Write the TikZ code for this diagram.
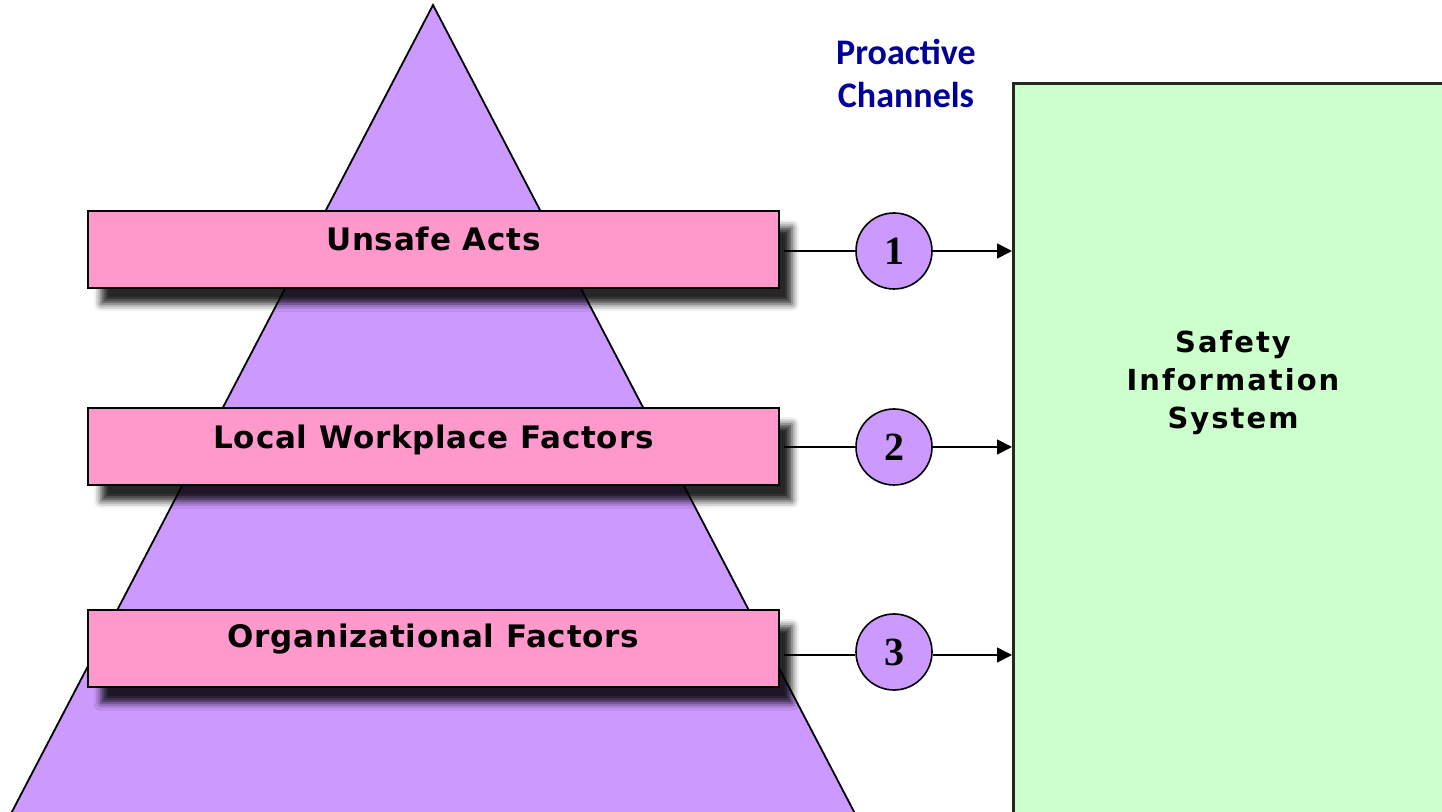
\documentclass[tikz,border=0pt]{standalone}
\usepackage{fontspec}
\newfontfamily\verdfont{DejaVu Sans}[LetterSpace=2.5]
\newfontfamily\sisfont{DejaVu Sans}[LetterSpace=7]
\newfontfamily\califont{Carlito}
\newfontfamily\numfont{Liberation Serif}
\usetikzlibrary{shadows.blur,arrows.meta}
\definecolor{trifill}{HTML}{CC99FF}
\definecolor{boxfill}{HTML}{FF99CC}
\definecolor{sisfill}{HTML}{CCFFCC}
\definecolor{navy}{HTML}{000099}
\tikzset{
  layerbox/.style={draw=black, line width=1pt, fill=boxfill, minimum width=345.5pt, minimum height=38.5pt, inner sep=0pt,
    blur shadow={shadow xshift=6.5pt, shadow yshift=-8pt, shadow blur radius=3.5pt, shadow opacity=85}},
  layertext/.style={font=\verdfont\bfseries\fontsize{15.5}{17}\selectfont, inner sep=0pt, anchor=base},
  chan/.style={circle, draw=black, line width=0.8pt, fill=trifill, minimum size=38pt, inner sep=0pt,
    font=\numfont\bfseries\fontsize{20}{21}\selectfont},
  conn/.style={line width=0.9pt},
  arr/.style={line width=0.9pt, -{Triangle[length=7.5pt,width=7.5pt]}},
}
\begin{document}
\begin{tikzpicture}[x=0.5pt,y=-0.5pt]
\useasboundingbox (0,0) rectangle (1442,812);
\clip (0,0) rectangle (1442,812);
% pyramid
\draw[fill=trifill, line width=0.9pt] (433,5) -- (874,850) -- (-8,850) -- cycle;
% safety information system
\node[draw=black!85, line width=1.3pt, fill=sisfill, minimum width=300pt, minimum height=400pt, anchor=north west, inner sep=0pt] (sis) at (1012,82) {};
\node[font=\sisfont\bfseries\fontsize{14.5}{19}\selectfont, align=center, inner sep=0pt] (sist) at (1233,383) {Safety\\Information\\System};
% proactive channels
\node[font=\califont\bfseries\fontsize{18}{21.5}\selectfont, text=navy, align=center, inner sep=0pt] (pc) at (906,73) {Proactive\\Channels};
% layers
\node[layerbox] (b1) at (433.5,249.5) {};
\node[layerbox] (b2) at (433.5,446.5) {};
\node[layerbox] (b3) at (433.5,648.5) {};
\node[layertext] (t1) at ([yshift=-20.5pt]b1.north) {Unsafe Acts};
\node[layertext] (t2) at ([yshift=-21pt]b2.north) {Local Workplace Factors};
\node[layertext] (t3) at ([yshift=-19.5pt]b3.north) {Organizational Factors};
% channels
\node[chan] (c1) at (894,251) {1};
\node[chan] (c2) at (894,447) {2};
\node[chan] (c3) at (894,652) {3};
\coordinate (s1) at (784,251);
\coordinate (s2) at (784,447);
\coordinate (s3) at (784,655);
\coordinate (e1) at (1012,251);
\coordinate (e2) at (1012,447);
\coordinate (e3) at (1012,655);
\draw[conn] (s1) -- (c1.west);
\draw[conn] (s2) -- (c2.west);
\draw[conn] (s3) -- (c3.west |- s3);
\draw[arr] (c1.east) -- (e1);
\draw[arr] (c2.east) -- (e2);
\draw[arr] (c3.east |- e3) -- (e3);
\end{tikzpicture}
\end{document}
